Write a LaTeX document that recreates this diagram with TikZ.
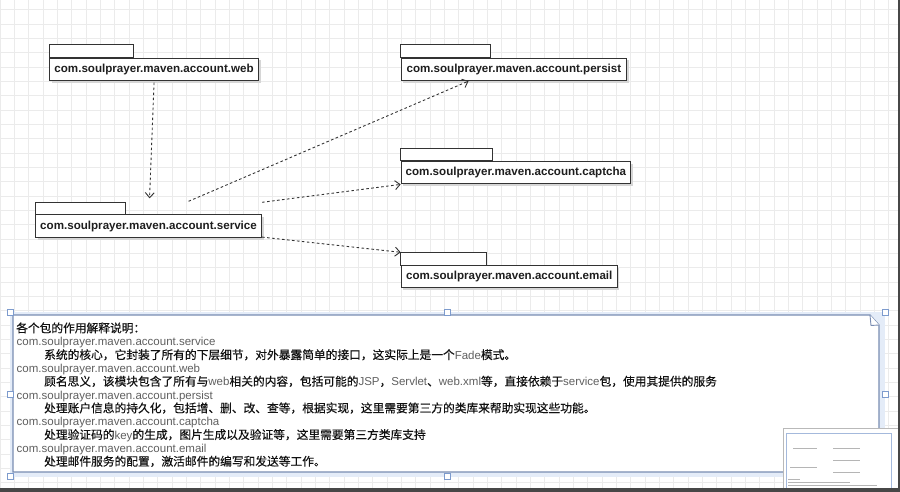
\documentclass[tikz,border=0pt]{standalone}
\usepackage{fontspec}
\setmainfont{Liberation Sans}
\newfontfamily\cjk[Scale=1.02,FakeBold=0.4]{Noto Sans CJK SC}
\usetikzlibrary{arrows.meta,calc,shadows}
\definecolor{boxline}{HTML}{333333}
\definecolor{boxtext}{HTML}{1E1E1E}
\definecolor{gridc}{HTML}{EBEBEB}
\definecolor{latgray}{HTML}{606060}
\definecolor{zhblack}{HTML}{111111}
\definecolor{noteblue}{RGB}{120,140,178}
\definecolor{selblue}{RGB}{228,236,248}
\definecolor{handleblue}{RGB}{125,155,205}
\definecolor{minigray}{HTML}{B5B5B5}
\newcommand{\lat}[1]{{\color{latgray}#1}}
\newcommand{\zh}[1]{{\cjk\color{zhblack}#1}}
\tikzset{
  gridline/.style={draw=gridc, line width=0.6pt},
  pkg/.style={draw=boxline, fill=white, line width=1.1pt, anchor=north west,
    text=boxtext, font=\fontsize{11.6}{13}\selectfont\bfseries, inner sep=0pt,
    drop shadow={shadow xshift=2pt, shadow yshift=-2pt, fill=black!16, opacity=1}},
  pkgtab/.style={draw=boxline, fill=white, line width=1pt},
  dep/.style={draw=boxline, line width=0.9pt, dash pattern=on 2.6pt off 2.4pt,
    -{Straight Barb[length=5pt,width=9pt]}},
  noteline/.style={draw=noteblue, fill=white, line width=1.2pt},
  handle/.style={draw=handleblue, fill=white, line width=0.8pt, minimum size=6pt, inner sep=0pt},
  txt/.style={anchor=base west, inner sep=0pt, font=\fontsize{11.5}{13.3}\selectfont},
  minil/.style={draw=minigray, line width=0.9pt}
}
\begin{document}
\begin{tikzpicture}[x=1pt,y=-1pt]
\useasboundingbox (0,0) rectangle (900,492);
\fill[white] (0,0) rectangle (900,492);
% grid
\foreach \i in {0,...,62} \draw[gridline] (\i*14.33,0) -- (\i*14.33,492);
\foreach \j in {0,...,34} \draw[gridline] (0,9.7+\j*14.33) -- (900,9.7+\j*14.33);

% packages
\node[pkg, minimum width=209pt, minimum height=22.3pt] (web) at (49,57.7) {com.soulprayer.maven.account.web};
\node[pkg, minimum width=225.3pt, minimum height=22.3pt] (persist) at (400.7,57.7) {com.soulprayer.maven.account.persist};
\node[pkg, minimum width=226pt, minimum height=23pt] (service) at (35,214.3) {com.soulprayer.maven.account.service};
\node[pkg, minimum width=229.3pt, minimum height=22.3pt] (captcha) at (400.7,161) {com.soulprayer.maven.account.captcha};
\node[pkg, minimum width=216pt, minimum height=22.3pt] (email) at (400.7,265) {com.soulprayer.maven.account.email};

\draw[pkgtab] (web.north west) rectangle ++(84,-12.7);
\draw[pkgtab] (persist.north west) rectangle ++(89.3,-12.7);
\draw[pkgtab] (service.north west) rectangle ++(90.7,-11.6);
\draw[pkgtab] (captcha.north west) rectangle ++(92,-12.7);
\draw[pkgtab] (email.north west) rectangle ++(86,-12.7);

% dependencies
\draw[dep] ([yshift=-1.5pt]web.south) -- ([xshift=1pt,yshift=16pt]service.north);
\draw[dep] ([xshift=40pt,yshift=13pt]service.north) -- ([xshift=-45.4pt]persist.south);
\draw[dep] ([yshift=12pt]service.north east) -- (captcha.south west);
\draw[dep] ([yshift=1.3pt]service.south east) -- ([yshift=12.7pt]email.north west);

% note (selected)
\fill[selblue] (10,312) rectangle (885,477);
\draw[noteline] (13,315) -- (870,315) -- (879,325) -- (879,472) -- (13,472) -- cycle;
\draw[noteline, line width=0.9pt] (870,315) -- (871,325.5) -- (879,325);

\node[txt] (l1) at (16,332.4) {\zh{各个包的作用解释说明：}};
\node[txt] (l2) at (16.5,345.7) {\lat{com.soulprayer.maven.account.service}};
\node[txt] (l3) at (44,359.1) {\zh{系统的核心，它封装了所有的下层细节，对外暴露简单的接口，这实际上是一个}\lat{Fade}\zh{模式。}};
\node[txt] (l4) at (16.5,372.4) {\lat{com.soulprayer.maven.account.web}};
\node[txt] (l5) at (44,385.7) {\zh{顾名思义，该模块包含了所有与}\lat{web}\zh{相关的内容，包括可能的}\lat{JSP}\zh{，}\lat{Servlet}\zh{、}\lat{web.xml}\zh{等，直接依赖于}\lat{service}\zh{包，使用其提供的服务}};
\node[txt] (l6) at (16.5,399.1) {\lat{com.soulprayer.maven.account.persist}};
\node[txt] (l7) at (44,412.4) {\zh{处理账户信息的持久化，包括增、删、改、查等，根据实现，这里需要第三方的类库来帮助实现这些功能。}};
\node[txt] (l8) at (16.5,425.7) {\lat{com.soulprayer.maven.account.captcha}};
\node[txt] (l9) at (44,439.0) {\zh{处理验证码的}\lat{key}\zh{的生成，图片生成以及验证等，这里需要第三方类库支持}};
\node[txt] (l10) at (16.5,452.4) {\lat{com.soulprayer.maven.account.email}};
\node[txt] (l11) at (44,465.7) {\zh{处理邮件服务的配置，激活邮件的编写和发送等工作。}};

% selection handles
\node[handle] (h1) at (10,312) {};
\node[handle] (h2) at (447,312) {};
\node[handle] (h3) at (885,312) {};
\node[handle] (h4) at (10,394.5) {};
\node[handle] (h5) at (885,394.5) {};
\node[handle] (h6) at (10,476.5) {};
\node[handle] (h7) at (447,476.5) {};
\node[handle] (h8) at (885,476.5) {};

% minimap
\draw[draw=gray!55, fill=white, line width=0.8pt] (783,428) rectangle (900,492);
\draw[draw=handleblue!70, line width=1pt] (786,433) rectangle (891,489);
\draw[minil] (793,448) -- (817,448);
\draw[minil] (833,448) -- (860,448);
\draw[minil] (833,460) -- (860,460);
\draw[minil] (790,467) -- (817,467);
\draw[minil] (833,472) -- (860,472);
\draw[minil, line width=0.6pt] (788,479) -- (800,479);
\draw[minil, line width=0.6pt] (788,482) -- (850,482);
\draw[minil, line width=0.6pt] (788,485) -- (877,485);
\draw[minil, line width=0.6pt] (788,488) -- (830,488);

% window borders
\fill[black!72] (897.5,0) rectangle (900,492);
\fill[black!72] (0,488) rectangle (900,492);
\end{tikzpicture}
\end{document}
